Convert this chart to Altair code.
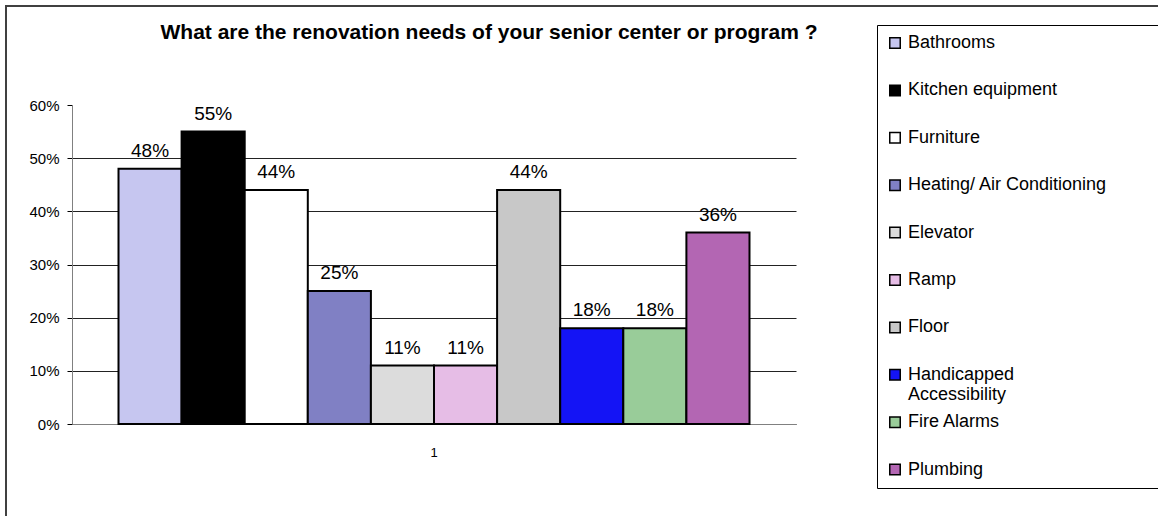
import altair as alt
import pandas as pd

categories = ["Bathrooms", "Kitchen equipment", "Furniture", "Heating/ Air Conditioning",
              "Elevator", "Ramp", "Floor", "Handicapped Accessibility", "Fire Alarms", "Plumbing"]
values = [0.48, 0.55, 0.44, 0.25, 0.11, 0.11, 0.44, 0.18, 0.18, 0.36]
colors = ["#c6c6f0", "#000000", "#ffffff", "#8080c4", "#dcdcdc",
          "#e6bde6", "#c8c8c8", "#1414f5", "#99cc99", "#b366b3"]
group = ["1"] * len(categories)
y_ticks = [0, 0.1, 0.2, 0.3, 0.4, 0.5, 0.6]
title_text = ["What are the renovation needs of your senior center or program ?"]

FONT = "Liberation Sans"

df = pd.DataFrame({"group": group, "category": categories, "value": values})

base = alt.Chart(df)

x_enc = alt.X("group:N",
              scale=alt.Scale(paddingInner=0, paddingOuter=0.0737),
              axis=alt.Axis(title=None, labelAngle=0, ticks=False, labelFontSize=13,
                            labelFont=FONT, labelColor="black", labelPadding=22,
                            domainColor="#808080", domainWidth=1))
xo_enc = alt.XOffset("category:N", sort=categories,
                     scale=alt.Scale(domain=categories, paddingInner=0, paddingOuter=0))

bars = base.mark_bar(stroke="black", strokeWidth=2, opacity=1).encode(
    x=x_enc,
    xOffset=xo_enc,
    y=alt.Y("value:Q",
            scale=alt.Scale(domain=[0, 0.6], nice=False),
            axis=alt.Axis(title=None, format=".0%", values=y_ticks, tickSize=5,
                          tickColor="black", labelFontSize=15, labelFont=FONT,
                          labelColor="black", labelPadding=8,
                          domainColor="#808080", domainWidth=1,
                          grid=True, gridColor="#222222", gridWidth=1,
                          gridOpacity={"condition": {"test": "datum.value >= 0.6", "value": 0}, "value": 1})),
    color=alt.Color("category:N", sort=categories,
                    scale=alt.Scale(domain=categories, range=colors),
                    legend=alt.Legend(orient="none", legendX=805, legendY=-80,
                                      title=" ", titleOrient="right", titlePadding=120,
                                      symbolType="square", symbolSize=110,
                                      symbolStrokeColor="black", symbolStrokeWidth=1.5,
                                      symbolOpacity=1,
                                      labelFontSize=18, labelFont=FONT, labelColor="black",
                                      labelOffset=4, labelLimit=400,
                                      labelExpr="datum.label == 'Handicapped Accessibility' ? ['Handicapped', 'Accessibility'] : datum.label",
                                      rowPadding=9.4, gridAlign="all", padding=9,
                                      strokeColor="black", fillColor="white")),
)

labels = base.mark_text(baseline="bottom", dy=-8, fontSize=19, font=FONT, color="black").encode(
    x=x_enc,
    xOffset=xo_enc,
    y=alt.Y("value:Q"),
    text=alt.Text("value:Q", format=".0%"),
)

title = alt.Chart(pd.DataFrame({"t": title_text})).mark_text(
    fontSize=21, fontWeight="bold", font=FONT, color="black",
    align="center", baseline="alphabetic"
).encode(x=alt.value(417), y=alt.value(-66), text="t:N")

frame = alt.Chart(pd.DataFrame({"a": [0]})).mark_rect(
    fillOpacity=0, stroke="#404040", strokeWidth=2
).encode(x=alt.value(-66), x2=alt.value(1200), y=alt.value(-99), y2=alt.value(500))

chart = alt.layer(frame, bars, labels, title).properties(
    width=724,
    height=319,
    background="white",
    autosize=alt.AutoSizeParams(type="none"),
    padding={"left": 72, "top": 105, "right": 362, "bottom": 92},
).configure_view(strokeOpacity=0, strokeWidth=0)

chart.save("out.html", embed_options={"renderer": "svg", "actions": False})
